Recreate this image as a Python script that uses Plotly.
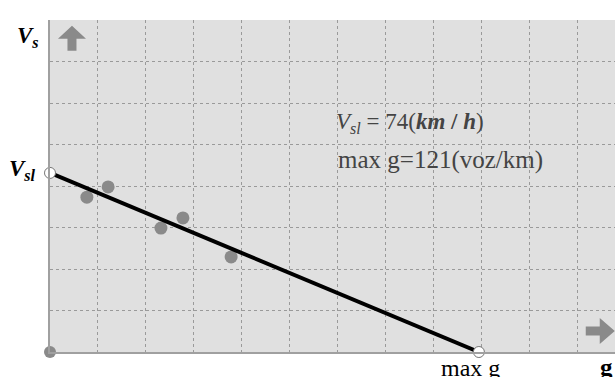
import plotly.graph_objects as go

# free-flow speed and max density
v_sl = 74
max_g = 121

# observed points (g in voz/km, V in km/h)
obs_g = [10.4, 16.4, 31.3, 37.5, 51.1]
obs_v = [64.0, 68.2, 51.2, 55.4, 39.3]

line_g = [0, max_g]
line_v = [v_sl, 0]

x_max = 159.4
y_max = 137.2
x_step = 13.54
y_step = 17.15

serif = "Liberation Serif"
grey = "#8a8a8a"

fig = go.Figure()

# origin dot
fig.add_trace(go.Scatter(x=[0], y=[0], mode="markers",
                         marker=dict(size=12, color=grey), cliponaxis=False,
                         showlegend=False, hoverinfo="skip"))
fig.add_trace(go.Scatter(x=obs_g, y=obs_v, mode="markers",
                         marker=dict(size=13, color=grey), showlegend=False))
fig.add_trace(go.Scatter(x=line_g, y=line_v, mode="lines+markers",
                         line=dict(color="black", width=4),
                         marker=dict(size=11, color="white", line=dict(color="#777", width=1)),
                         cliponaxis=False, showlegend=False))


def label(x, y, text, size, color="black", **kw):
    fig.add_annotation(x=x, y=y, xref="x", yref="y", text=text, showarrow=False,
                       font=dict(family=serif, size=size, color=color), **kw)


label(0, y_max, "<b><i>V<sub>s</sub></i></b>", 23, xanchor="right", yanchor="top",
      xshift=-9, yshift=-1)
label(0, v_sl, "<b><i>V<sub>sl</sub></i></b>", 23, xanchor="right", yanchor="middle",
      xshift=-12, yshift=3)
label(max_g, 0, "max g", 24, xanchor="center", yanchor="top", yshift=-1, xshift=-8)
label(x_max, 0, "<b>g</b>", 25, xanchor="right", yanchor="top", xshift=0, yshift=0)
label(80.0, 94.5, "<i>V</i><sub><i>sl</i></sub> = 74(<b><i>km</i> / <i>h</i></b>)", 23,
      color="#444", xanchor="left", yanchor="middle")
label(80.8, 79.3, "max g=121(voz/km)", 25, color="#444", xanchor="left", yanchor="middle")

# block arrows (pixel-sized shapes anchored to the axes)
up_path = "M 0 13 L 14 0 L 4.5 0 L 4.5 -12 L -4.5 -12 L -4.5 0 L -14 0 Z"
right_path = "M 15 0 L 0 13 L 0 4.5 L -14 4.5 L -14 -4.5 L 0 -4.5 L 0 -13 Z"
fig.add_shape(type="path", xref="x", yref="y", xsizemode="pixel", ysizemode="pixel",
              xanchor=6.2, yanchor=129.5, path=up_path, fillcolor=grey, line_width=0)
fig.add_shape(type="path", xref="x", yref="y", xsizemode="pixel", ysizemode="pixel",
              xanchor=155.1, yanchor=8.7, path=right_path, fillcolor=grey, line_width=0)

fig.update_xaxes(range=[0, x_max], tick0=0, dtick=x_step, showticklabels=False,
                 showgrid=True, gridcolor="#9a9a9a", griddash="dot", gridwidth=1,
                 zeroline=False, showline=True, linecolor="#a0a0a0", linewidth=2, ticks="")
fig.update_yaxes(range=[0, y_max], tick0=0, dtick=y_step, showticklabels=False,
                 showgrid=True, gridcolor="#9a9a9a", griddash="dot", gridwidth=1,
                 zeroline=False, showline=True, linecolor="#a0a0a0", linewidth=2, ticks="")

fig.update_layout(width=615, height=377, margin=dict(l=50, r=0, t=20, b=25),
                  plot_bgcolor="#e0e0e0", paper_bgcolor="white",
                  font=dict(family=serif), showlegend=False)

fig.write_html("out.html", config={"displayModeBar": False},
               post_script="document.body.style.margin='0';")
